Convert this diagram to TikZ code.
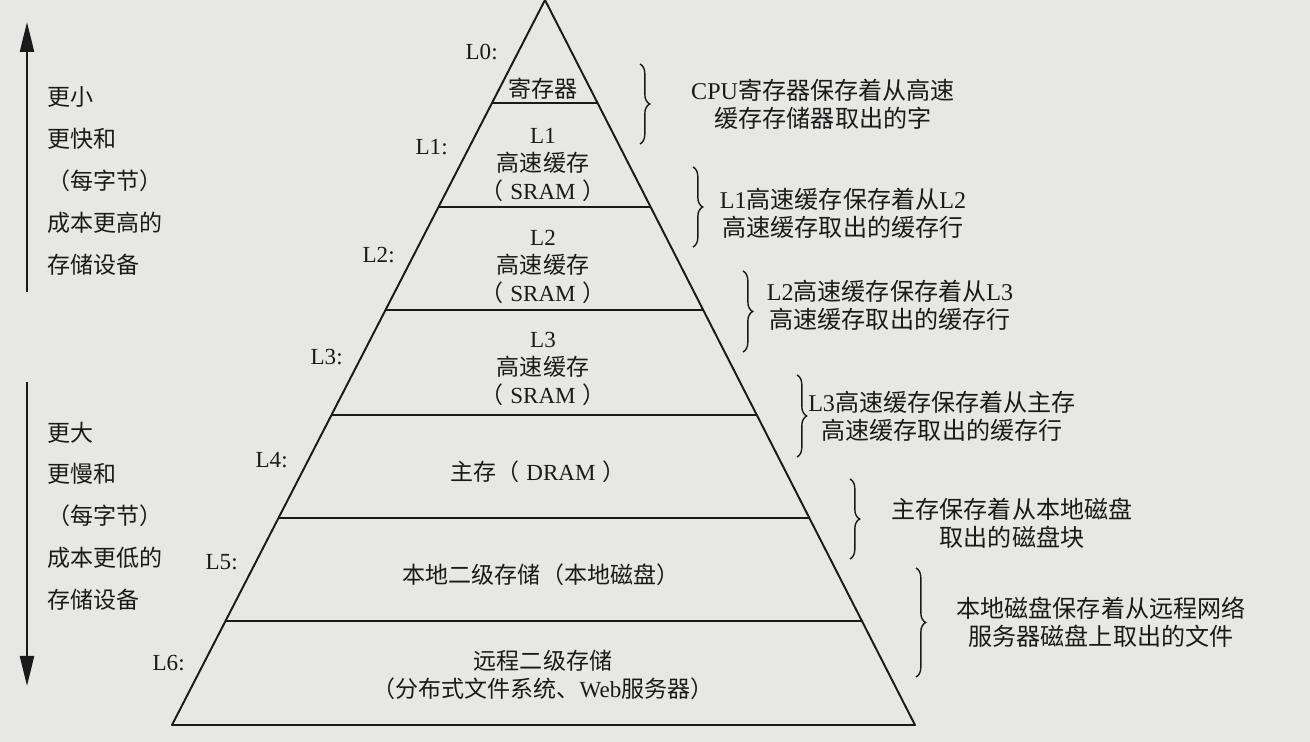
\documentclass[tikz,border=0pt]{standalone}
\usepackage{fontspec}
\setmainfont{Liberation Serif}
\newfontfamily\cjk{Noto Sans CJK SC}
\usetikzlibrary{arrows.meta,calc,decorations.pathreplacing}
\definecolor{paper}{RGB}{231,231,229}
\definecolor{ink}{RGB}{26,26,26}

\begin{document}
\begin{tikzpicture}[
    x=0.2mm, y=-0.2mm,
    every node/.style={text=ink, inner sep=0pt, font=\fontsize{13.1}{16.2}\selectfont},
    pyr/.style={draw=ink, line width=1.1pt, line join=round},
    lvllabel/.style={anchor=east},
    layertext/.style={align=center},
    desc/.style={align=center, font=\fontsize{13.7}{16}\selectfont},
    sidenote/.style={align=left, anchor=west, font=\cjk\fontsize{13.1}{23.8}\selectfont},
    rbrace/.style={draw=ink, line width=0.8pt, decorate, decoration={brace, amplitude=5.5pt}},
    bigarrow/.style={draw=ink, line width=1.4pt, -{Triangle[length=6mm, width=2.8mm]}},
  ]
    \fill[paper] (0,0) rectangle (1310,742);
    \useasboundingbox (0,0) rectangle (1310,742);
    % pyramid and its layers
    \coordinate (apex) at (545,0);
    \coordinate (bl) at (172,725);
    \coordinate (br) at (915,725);
    \draw[pyr] (bl) -- (apex) -- (br) -- cycle;
    \foreach \yy [evaluate=\yy as \t using \yy/725] in {103,207,310,415,518,621}
      \draw[pyr] ($(apex)!\t!(bl)$) -- ($(apex)!\t!(br)$);
    % level labels
    \foreach \n/\xx/\yy in {0/498/52, 1/448/147, 2/395/255, 3/343/357, 4/288/460, 5/238/562, 6/185/663}
      \node[lvllabel] (lab\n) at (\xx,\yy) {L\n:};
    % layer contents
    \node[layertext] (reg) at (543,89) {\cjk 寄存器};
    \node[layertext] (sram1) at (543,165) {L1\\{\cjk 高速缓存}\\{\cjk （}\kern4pt SRAM\kern4pt{\cjk ）}};
    \node[layertext] (sram2) at (543,267) {L2\\{\cjk 高速缓存}\\{\cjk （}\kern4pt SRAM\kern4pt{\cjk ）}};
    \node[layertext] (sram3) at (543,369) {L3\\{\cjk 高速缓存}\\{\cjk （}\kern4pt SRAM\kern4pt{\cjk ）}};
    \node[layertext] (dram) at (538,472) {{\cjk 主存（}\kern4pt DRAM\kern4pt{\cjk ）}};
    \node[layertext] (disk) at (541,575) {\cjk 本地二级存储（本地磁盘）};
    \node[layertext] (remote) at (543,675) {{\cjk 远程二级存储}\\{\cjk （分布式文件系统、}Web{\cjk 服务器）}};
    % braces on the right
    \foreach \n/\xx/\ya/\yb in {1/640/64/144, 2/693/167/247, 3/743/271/352, 4/797/375/457, 5/850/479/559, 6/916/568/677} {
      \coordinate (bt\n) at (\xx,\ya);
      \coordinate (bb\n) at (\xx,\yb);
      \draw[rbrace] (bt\n) -- (bb\n);
    }
    \node[desc] (d1) at (823,104) {CPU{\cjk 寄存器保存着从高速}\\{\cjk 缓存存储器取出的字}};
    \node[desc] (d2) at (843,213) {L1{\cjk 高速缓存保存着从}L2\\{\cjk 高速缓存取出的缓存行}};
    \node[desc] (d3) at (890,305) {L2{\cjk 高速缓存保存着从}L3\\{\cjk 高速缓存取出的缓存行}};
    \node[desc] (d4) at (942,416) {L3{\cjk 高速缓存保存着从主存}\\{\cjk 高速缓存取出的缓存行}};
    \node[desc] (d5) at (1012,523) {{\cjk 主存保存着从本地磁盘}\\{\cjk 取出的磁盘块}};
    \node[desc] (d6) at (1101,622) {{\cjk 本地磁盘保存着从远程网络}\\{\cjk 服务器磁盘上取出的文件}};
    % left side arrows and notes
    \coordinate (uptail) at (27,292);
    \coordinate (uphead) at (27,22);
    \draw[bigarrow] (uptail) -- (uphead);
    \node[sidenote] (fast) at (47,181) {更小\\更快和\\（每字节）\\成本更高的\\存储设备};
    \coordinate (dntail) at (27,382);
    \coordinate (dnhead) at (27,686);
    \draw[bigarrow] (dntail) -- (dnhead);
    \node[sidenote] (slow) at (47,516) {更大\\更慢和\\（每字节）\\成本更低的\\存储设备};
\end{tikzpicture}
\end{document}
